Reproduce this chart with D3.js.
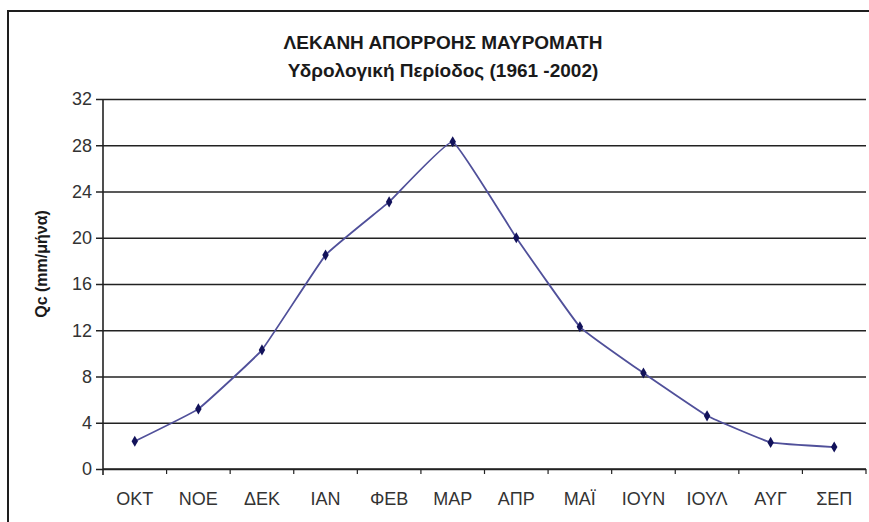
<!DOCTYPE html>
<html>
<head>
<meta charset="utf-8">
<script src="https://cdn.jsdelivr.net/npm/d3@7"></script>
<style>
  html, body { margin: 0; padding: 0; background: #fff; }
  svg { display: block; }
  text { font-family: Arial, "Liberation Sans", sans-serif; }
</style>
</head>
<body>
<script>
// Monthly runoff, hydrological year October–September
const months = ["ΟΚΤ", "ΝΟΕ", "ΔΕΚ", "ΙΑΝ", "ΦΕΒ", "ΜΑΡ", "ΑΠΡ", "ΜΑΪ", "ΙΟΥΝ", "ΙΟΥΛ", "ΑΥΓ", "ΣΕΠ"];
const runoff = [2.4, 5.2, 10.3, 18.5, 23.1, 28.3, 20.0, 12.3, 8.3, 4.6, 2.3, 1.9];
const yTicks = [0, 4, 8, 12, 16, 20, 24, 28, 32];
const titleLines = ["ΛΕΚΑΝΗ ΑΠΟΡΡΟΗΣ ΜΑΥΡΟΜΑΤΗ", "Υδρολογική Περίοδος (1961 -2002)"];
const yLabel = "Qc (mm/μήνα)";

const W = 869, H = 522;
const plot = { left: 103, right: 866, top: 99, bottom: 469 };

const svg = d3.select("body").append("svg").attr("width", W).attr("height", H);

// outer chart frame
svg.append("rect")
  .attr("x", 8).attr("y", 11)
  .attr("width", W + 20).attr("height", H + 20)
  .attr("fill", "none").attr("stroke", "#1e1e1e").attr("stroke-width", 2);

const x = d3.scaleBand().domain(months).range([plot.left, plot.right]).padding(0);
const y = d3.scaleLinear().domain([0, 32]).range([plot.bottom, plot.top]);

// horizontal gridlines with y ticks
const yAxis = d3.axisLeft(y).tickValues(yTicks).tickSize(-(plot.right - plot.left)).tickSizeOuter(0).tickPadding(11);
const gy = svg.append("g").attr("transform", `translate(${plot.left},0)`).call(yAxis);
gy.select(".domain").remove();
gy.selectAll(".tick line").attr("stroke", "#222").attr("stroke-width", 1.4).attr("x1", -7);
gy.selectAll(".tick text").attr("font-size", 18).attr("fill", "#333");

// vertical axis line
svg.append("line")
  .attr("x1", plot.left).attr("x2", plot.left)
  .attr("y1", plot.top).attr("y2", plot.bottom + 6)
  .attr("stroke", "#222").attr("stroke-width", 1.6);

// category axis: ticks at band boundaries
const gx = svg.append("g").attr("transform", `translate(0,${plot.bottom})`);
gx.append("line")
  .attr("x1", plot.left).attr("x2", plot.right)
  .attr("stroke", "#222").attr("stroke-width", 1.6);
gx.selectAll("line.bt")
  .data(months.slice(1).concat(["end"]))
  .join("line").attr("class", "bt")
  .attr("x1", (d, i) => x(months[0]) + x.bandwidth() * (i + 1))
  .attr("x2", (d, i) => x(months[0]) + x.bandwidth() * (i + 1))
  .attr("y1", 0).attr("y2", 5)
  .attr("stroke", "#222").attr("stroke-width", 1.2);
gx.selectAll("text")
  .data(months)
  .join("text")
  .attr("x", d => x(d) + x.bandwidth() / 2)
  .attr("y", 36)
  .attr("text-anchor", "middle")
  .attr("font-size", 18)
  .attr("fill", "#333")
  .text(d => d);

// runoff line, slightly smoothed
const line = d3.line()
  .x((d, i) => x(months[i]) + x.bandwidth() / 2)
  .y(d => y(d))
  .curve(d3.curveCardinal.tension(0.72));
svg.append("path")
  .datum(runoff)
  .attr("d", line)
  .attr("fill", "none")
  .attr("stroke", "#50509a")
  .attr("stroke-width", 1.8);

// diamond markers
svg.selectAll("path.pt")
  .data(runoff)
  .join("path").attr("class", "pt")
  .attr("d", d3.symbol().type(d3.symbolDiamond).size(36))
  .attr("transform", (d, i) => `translate(${x(months[i]) + x.bandwidth() / 2},${y(d)})`)
  .attr("fill", "#12125a");

// title
svg.selectAll("text.title")
  .data(titleLines)
  .join("text").attr("class", "title")
  .attr("x", 443)
  .attr("y", (d, i) => 49 + i * 28)
  .attr("text-anchor", "middle")
  .attr("font-size", 19)
  .attr("font-weight", "bold")
  .attr("fill", "#1a1a1a")
  .text(d => d);

// y-axis title
svg.append("text")
  .attr("transform", `translate(47,264) rotate(-90)`)
  .attr("text-anchor", "middle")
  .attr("font-size", 16)
  .attr("font-weight", "bold")
  .attr("fill", "#1a1a1a")
  .text(yLabel);
</script>
</body>
</html>
